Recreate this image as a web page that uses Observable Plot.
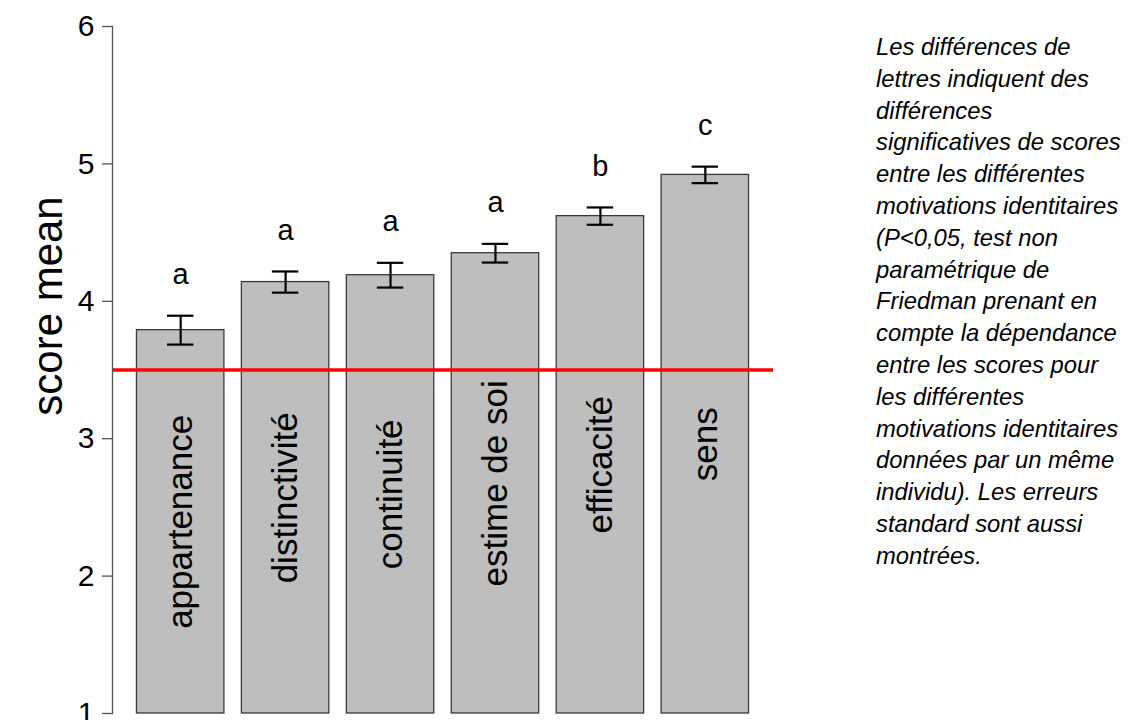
<!DOCTYPE html>
<html>
<head>
<meta charset="utf-8">
<script src="https://cdn.jsdelivr.net/npm/d3@7"></script>
<script src="https://cdn.jsdelivr.net/npm/@observablehq/plot@0.6"></script>
<style>
  html, body { margin: 0; padding: 0; background: #fff; }
  #wrap { position: relative; width: 1131px; height: 720px; overflow: hidden; font-family: "Liberation Sans", Arial, Helvetica, sans-serif; }
  #note { position: absolute; left: 876px; top: 31px; font-style: italic; font-size: 23.8px; line-height: 31.8px; color: #000; white-space: nowrap; }
</style>
</head>
<body>
<div id="wrap"><div id="chart"></div><div id="note"></div></div>
<script>
const categories = ["appartenance", "distinctivité", "continuité", "estime de soi", "efficacité", "sens"];
const means = [3.79, 4.14, 4.19, 4.35, 4.62, 4.92];
const ses = [0.105, 0.077, 0.09, 0.068, 0.063, 0.06];
const letters = ["a", "a", "a", "a", "b", "c"];
const threshold = 3.5;
const yTicks = [1, 2, 3, 4, 5, 6];
const yLabel = "score mean";
const noteLines = [
  "Les différences de",
  "lettres indiquent des",
  "différences",
  "significatives de scores",
  "entre les différentes",
  "motivations identitaires",
  "(P<0,05, test non",
  "paramétrique de",
  "Friedman prenant en",
  "compte la dépendance",
  "entre les scores pour",
  "les différentes",
  "motivations identitaires",
  "données par un même",
  "individu). Les erreurs",
  "standard sont aussi",
  "montrées."
];

const data = categories.map((c, i) => ({cat: c, mean: means[i], se: ses[i], letter: letters[i]}));

const chart = Plot.plot({
  width: 1131,
  height: 720,
  marginLeft: 112,
  marginRight: 358,
  marginTop: 26,
  marginBottom: 7,
  style: {fontFamily: '"Liberation Sans", Arial, Helvetica, sans-serif', color: "#000", background: "#fff"},
  x: {domain: categories, paddingInner: 0.1667, paddingOuter: 0.233, round: false, axis: null},
  y: {domain: [1, 6], axis: null},
  marks: [
    Plot.barY(data, {x: "cat", y1: 1, y2: "mean", fill: "#bebebe", stroke: "#3a3a3a", strokeWidth: 1.3}),
    Plot.text(data, {x: "cat", y: d => (d.mean + 1) / 2, text: "cat", rotate: -90, fontSize: 35, fill: "#000"}),
    Plot.ruleY([threshold], {stroke: "#ff0000", strokeWidth: 3.5}),
    Plot.ruleX(data, {x: "cat", y1: d => d.mean - d.se, y2: d => d.mean + d.se, stroke: "#000", strokeWidth: 2.2}),
    Plot.tickY(data, {x: "cat", y: d => d.mean - d.se, stroke: "#000", strokeWidth: 2.2, insetLeft: 30.5, insetRight: 30.5}),
    Plot.tickY(data, {x: "cat", y: d => d.mean + d.se, stroke: "#000", strokeWidth: 2.2, insetLeft: 30.5, insetRight: 30.5}),
    Plot.text(data, {x: "cat", y: d => d.mean + d.se + 0.3, text: "letter", fontSize: 29, fill: "#000"}),
    Plot.frame({anchor: "left", stroke: "#555", strokeWidth: 1.3}),
    Plot.axisY({ticks: yTicks, tickSize: 10, tickPadding: 8, fontSize: 30, tickFormat: d => String(d), stroke: "#555", strokeWidth: 1.3, label: null}),
    Plot.text([yLabel], {frameAnchor: "left", textAnchor: "middle", dx: -64, dy: -64, rotate: -90, fontSize: 42, fill: "#000"})
  ]
});
document.getElementById("chart").appendChild(chart);
document.getElementById("note").innerHTML = noteLines.map(l => l.replace(/</g, "&lt;")).join("<br>");
</script>
</body>
</html>
